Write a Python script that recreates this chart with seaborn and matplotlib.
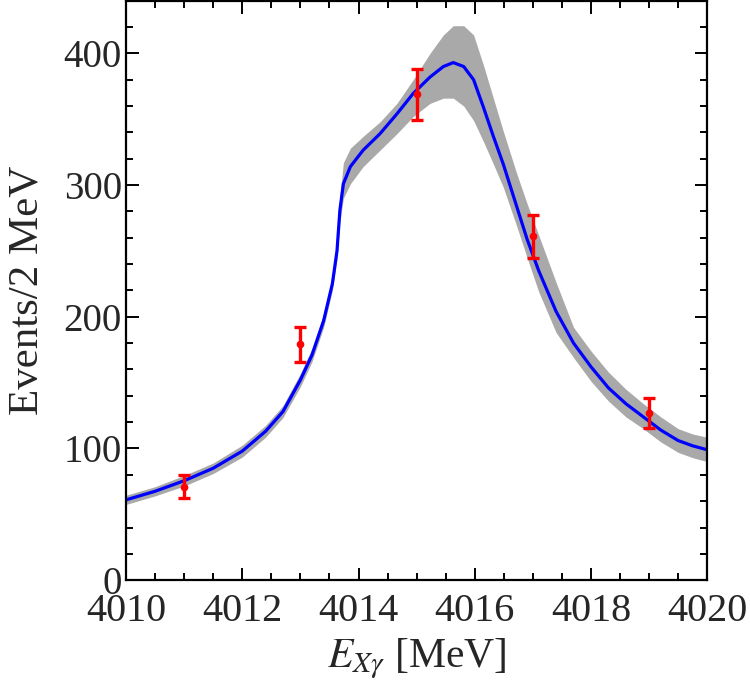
import numpy as np
import pandas as pd
import seaborn as sns
import matplotlib.pyplot as plt
from matplotlib.ticker import MultipleLocator

sns.set_style('ticks')
plt.rcParams['font.family'] = ['Liberation Serif', 'DejaVu Serif']
plt.rcParams['mathtext.fontset'] = 'stix'

# fit curve (central value and band)
e_grid = [4010.0, 4010.5, 4011.0, 4011.5, 4012.0, 4012.4, 4012.7, 4013.0, 4013.2, 4013.4,
          4013.55, 4013.63, 4013.68, 4013.74, 4013.86, 4014.08, 4014.37, 4014.66, 4014.94, 4015.23,
          4015.46, 4015.63, 4015.81, 4015.98, 4016.15, 4016.32, 4016.49, 4016.72, 4016.9, 4017.1,
          4017.4, 4017.7, 4018.0, 4018.3, 4018.6, 4018.9, 4019.2, 4019.5, 4019.75, 4020.0]
fit_mid = [61, 67.5, 75.5, 85, 98, 113, 128, 152, 171, 197,
           225, 250, 281, 301, 314, 326.5, 339, 354, 369.5, 382,
           390, 393, 390, 380, 359, 337, 316, 284, 259, 235,
           204, 180, 162, 146, 134, 124, 114, 106, 102, 99]
fit_low = [57.5, 64, 71.5, 81, 93.5, 108.5, 123.5, 147, 166, 192,
           220, 244, 272, 290, 301, 314, 326.5, 339, 352, 362,
           366, 366, 360, 349, 333, 316, 298.5, 269, 245, 219,
           188, 169, 151, 136, 124, 115, 105, 97, 93, 90]
fit_high = [64.5, 71, 79.5, 89, 102.5, 117.5, 132.5, 157, 176, 202,
            230, 256, 292, 317, 328, 337, 348, 362, 380, 400,
            414, 421, 421, 414, 391, 366, 341, 309, 286, 262,
            226, 192, 174, 158, 145, 134, 124, 115, 111, 108.5]

# measured events with errors
e_data = [4011, 4013, 4015, 4017, 4019]
events = [71, 179, 369, 261, 127]
events_err = [8.5, 13.5, 19.5, 16.2, 11.5]

fit = pd.DataFrame({'E': e_grid, 'mid': fit_mid, 'low': fit_low, 'high': fit_high})

fig = plt.figure(figsize=(7.5, 6.94), dpi=100)
ax = fig.add_axes([0.168, 0.164, 0.775, 0.835])

ax.fill_between(fit['E'], fit['low'], fit['high'], color='#a9a9a9', lw=0)
sns.lineplot(data=fit, x='E', y='mid', color='#0000ff', lw=2.3, ax=ax)
ax.errorbar(e_data, events, yerr=events_err, fmt='o', ms=4.5, color='#ff0000',
            ecolor='#ff0000', elinewidth=2.4, capsize=4, capthick=2.4, zorder=5)

ax.set_xlim(4010, 4020)
ax.set_ylim(0, 440)
ax.xaxis.set_major_locator(MultipleLocator(2))
ax.xaxis.set_minor_locator(MultipleLocator(0.5))
ax.yaxis.set_major_locator(MultipleLocator(100))
ax.yaxis.set_minor_locator(MultipleLocator(20))
ax.tick_params(which='both', direction='in', top=True, right=True, width=1.4, color='black')
ax.tick_params(axis='x', labelsize=29, pad=9)
ax.tick_params(axis='y', labelsize=28, pad=3)
ax.tick_params(which='major', length=9)
ax.tick_params(which='minor', length=5)
for s in ax.spines.values():
    s.set_linewidth(1.6)
    s.set_color('black')

ax.set_xlabel(r'$E_{X\gamma}$ [MeV]', fontsize=30, labelpad=5)
ax.set_ylabel('Events/2 MeV', fontsize=31, labelpad=12)

fig.savefig('out.png', dpi=100)
